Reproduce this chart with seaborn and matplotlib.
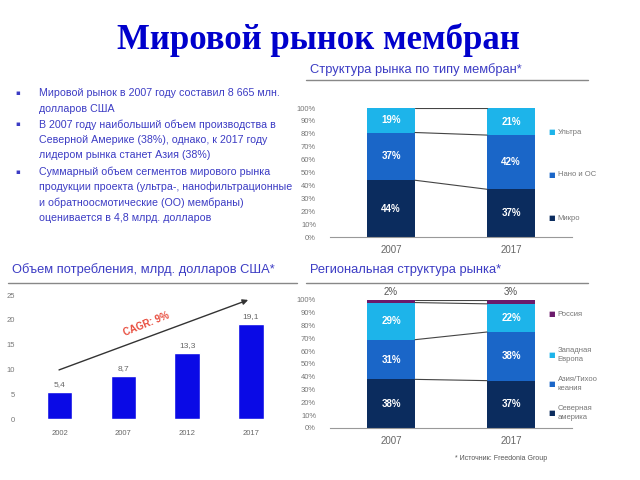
import numpy as np
import pandas as pd
import matplotlib
matplotlib.use("Agg")
import matplotlib.pyplot as plt
import seaborn as sns

sns.set_style("white")
plt.rcParams['font.family'] = ['Liberation Sans', 'DejaVu Sans']

# ---- data ----
type_years = ["2007", "2017"]
type_labels = ["Микро", "Нано и ОС", "Ультра"]
type_micro = [44, 37]
type_nano = [37, 42]
type_ultra = [19, 21]

cons_years = ["2002", "2007", "2012", "2017"]
cons_values = [5.4, 8.7, 13.3, 19.1]
cons_labels = ["5,4", "8,7", "13,3", "19,1"]

reg_years = ["2007", "2017"]
reg_labels = ["Северная\nамерика", "Азия/Тихоо\nкеания", "Западная\nЕвропа", "Россия"]
reg_na = [38, 37]
reg_asia = [31, 38]
reg_eu = [29, 22]
reg_ru = [2, 3]

bullets = [
    "Мировой рынок в 2007 году составил 8 665 млн.\nдолларов США",
    "В 2007 году наибольший объем производства в\nСеверной Америке (38%), однако, к 2017 году\nлидером рынка станет Азия (38%)",
    "Суммарный объем сегментов мирового рынка\nпродукции проекта (ультра-, нанофильтрационные\nи обратноосмотические (ОО) мембраны)\nоценивается в 4,8 млрд. долларов",
]

NAVY = "#0b2c5e"
MID = "#1a66c8"
CYAN = "#1db4ea"
PURPLE = "#6b1a6b"
HEAD = "#3c3cc4"

W, H = 640, 480
fig = plt.figure(figsize=(6.4, 4.8), dpi=100)


def px_axes(x0, y0, x1, y1):
    return fig.add_axes([x0 / W, 1 - y1 / H, (x1 - x0) / W, (y1 - y0) / H])


def fx(x):
    return x / W


def fy(y):
    return 1 - y / H


# title
fig.text(fx(318), fy(40), "Мировой рынок мембран", ha="center", va="center",
         fontsize=25, fontweight="bold", color="#0000cc", family="Liberation Serif")

# bullets
y = 93
for b in bullets:
    lines = b.split("\n")
    fig.text(fx(18), fy(y), "▪", fontsize=5, color=HEAD, va="center", ha="center",
             family="DejaVu Sans")
    for ln in lines:
        fig.text(fx(39), fy(y), ln, fontsize=7.7, color=HEAD, va="center")
        y += 15.5
    y += 0.5


# section headers
def header(x0, x1, yt, yl, txt):
    fig.text(fx(x0 + 4), fy(yt), txt, fontsize=9.3, color=HEAD, va="center")
    fig.add_artist(plt.Line2D([fx(x0), fx(x1)], [fy(yl), fy(yl)], color="#888888", lw=1))

header(306, 588, 70, 80, "Структура рынка по типу мембран*")
header(8, 297, 270, 283, "Объем потребления, млрд. долларов США*")
header(306, 588, 270, 283, "Региональная структура рынка*")


def legend_items(colors, labels, ys):
    for c, l, yy in zip(colors, labels, ys):
        fig.text(fx(552), fy(yy), "■", fontsize=5, color=c, va="center", ha="center",
                 family="DejaVu Sans")
        fig.text(fx(557.5), fy(yy), l, fontsize=5.5, color="#777777", va="center",
                 linespacing=1.3)


def stacked(ax, years, series, colors, links):
    bottom = np.zeros(len(years))
    for vals, col in zip(series, colors):
        df = pd.DataFrame({"year": years, "v": vals})
        sns.barplot(data=df, x="year", y="v", color=col, width=0.4,
                    bottom=bottom, ax=ax, saturation=1, edgecolor="none")
        bottom = bottom + np.array(vals)
    for a, b in links:
        ax.plot([0.2, 0.8], [a, b], color="#444444", lw=0.8)
    ax.set_ylim(0, 100)
    ax.set_xlim(-0.508, 1.508)
    ax.set_yticks(range(0, 101, 10))
    ax.set_yticklabels([f"{t}%" for t in range(0, 101, 10)], fontsize=5.5, color="#777777")
    ax.set_xticks([0, 1])
    ax.set_xticklabels(years, fontsize=7, color="#666666")
    ax.set_xlabel("")
    ax.set_ylabel("")
    for s in ["top", "right", "left"]:
        ax.spines[s].set_visible(False)
    ax.spines["bottom"].set_color("#999999")
    ax.tick_params(axis="y", length=2, color="#999999", pad=8)
    ax.tick_params(axis="x", length=0, pad=6)


# top-right: membrane type
ax1 = px_axes(330, 108, 572, 237)
stacked(ax1, type_years, [type_micro, type_nano, type_ultra], [NAVY, MID, CYAN],
        [(100, 100), (81, 79), (44, 37)])
for i in range(2):
    b = 0
    for vals in [type_micro, type_nano, type_ultra]:
        ax1.text(i, b + vals[i] / 2, f"{vals[i]}%", ha="center", va="center",
                 color="white", fontsize=7, fontweight="bold")
        b += vals[i]
legend_items([CYAN, MID, NAVY], type_labels[::-1], [132, 175, 218])

# bottom-right: regional
ax2 = px_axes(330, 300, 572, 428)
stacked(ax2, reg_years, [reg_na, reg_asia, reg_eu, reg_ru], [NAVY, MID, CYAN, PURPLE],
        [(100, 100), (98, 97), (69, 75), (38, 37)])
for i in range(2):
    b = 0
    for vals in [reg_na, reg_asia, reg_eu]:
        ax2.text(i, b + vals[i] / 2, f"{vals[i]}%", ha="center", va="center",
                 color="white", fontsize=7, fontweight="bold")
        b += vals[i]
    ax2.text(i, 102, f"{reg_ru[i]}%", ha="center", va="bottom", color="#555555", fontsize=7)
legend_items([PURPLE, CYAN, MID, NAVY], reg_labels[::-1], [314, 355, 384, 413])

# bottom-left: consumption
ax3 = px_axes(22, 295, 289, 419)
df3 = pd.DataFrame({"year": cons_years, "v": cons_values})
sns.barplot(data=df3, x="year", y="v", color="#0a0ae6", width=0.4, saturation=1, ax=ax3)
for i, (v, t) in enumerate(zip(cons_values, cons_labels)):
    ax3.text(i, v + 0.8, t, ha="center", va="bottom", fontsize=6, color="#666666")
ax3.set_ylim(0, 25)
ax3.set_xlim(-0.59, 3.6)
ax3.set_yticks(range(0, 26, 5))
ax3.set_yticklabels([str(t) for t in range(0, 26, 5)], fontsize=5.5, color="#777777")
ax3.tick_params(axis="y", length=2, color="#999999", pad=3)
ax3.tick_params(axis="x", length=0, pad=8, labelsize=5.5, labelcolor="#666666")
ax3.set_xlabel("")
ax3.set_ylabel("")
sns.despine(ax=ax3, left=True, bottom=True)
ax3.annotate("", xy=(3.0, 24.2), xytext=(-0.05, 9.7),
             arrowprops=dict(arrowstyle="-|>", color="#333333", lw=1, mutation_scale=8))
ax3.text(1.37, 19.2, "CAGR: 9%", rotation=22, color="#e84b3c", fontsize=7,
         fontweight="bold", ha="center", va="center")

fig.text(fx(455), fy(458), "* Источник: Freedonia Group", fontsize=5, color="#555555", va="center")

fig.savefig("out.png", dpi=100)
